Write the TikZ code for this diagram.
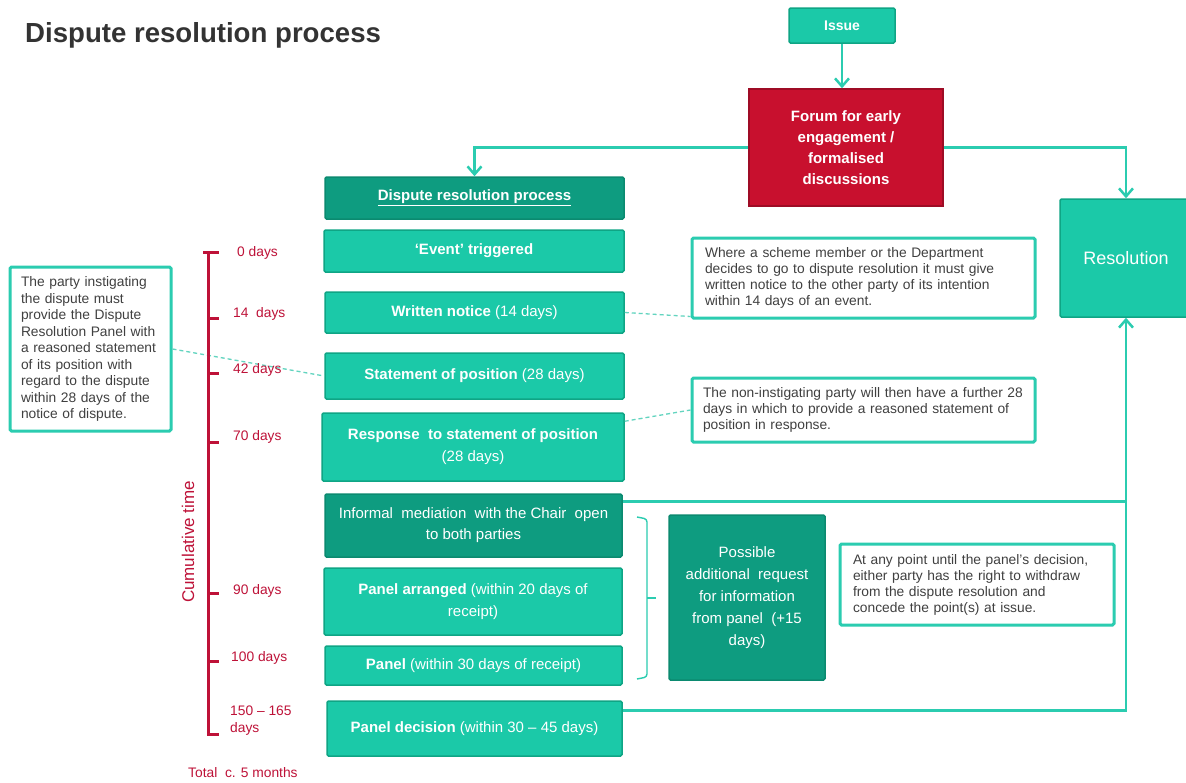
\documentclass[tikz,border=0pt]{standalone}
\usepackage{fontspec}
\setmainfont{Liberation Sans}
\usetikzlibrary{arrows.meta,calc}
\definecolor{tealb}{HTML}{1BC9A8}
\definecolor{tealbd}{HTML}{0FA585}
\definecolor{teald}{HTML}{0E9C80}
\definecolor{tealdd}{HTML}{0B8A70}
\definecolor{connc}{HTML}{2BCCB0}
\definecolor{dashc}{HTML}{62D4BF}
\definecolor{crim}{HTML}{C8102E}
\definecolor{crimd}{HTML}{9E0C25}
\definecolor{txtc}{HTML}{404040}
\definecolor{redt}{HTML}{BE1238}
\definecolor{titlec}{HTML}{333333}
\begin{document}
\begin{tikzpicture}[x=1pt,y=-1pt,
  bright/.style={draw=tealbd, line width=1.5pt, fill=tealb, rounded corners=1.5pt, text=white, align=center, inner sep=0pt, font=\fontsize{15}{22}\selectfont},
  darkb/.style={bright, fill=teald, draw=tealdd},
  callout/.style={draw=connc, line width=3pt, fill=white, rounded corners=1.5pt, text=txtc, align=left, inner xsep=12pt, inner ysep=0pt, font=\fontsize{13.8}{16}\selectfont},
  connline/.style={draw=connc, line width=2.5pt},
  arr/.style={-{Straight Barb[length=8pt,width=14pt]}},
  dashl/.style={draw=dashc, line width=1.3pt, dash pattern=on 4pt off 3pt},
  tline/.style={draw=redt, line width=3pt},
  daylab/.style={text=redt, font=\fontsize{13.8}{17}\selectfont, anchor=west, inner sep=0pt, align=left},
  brk/.style={draw=connc, line width=1.4pt, rounded corners=3pt}
]
\useasboundingbox[fill=white] (0,0) rectangle (1186,782);

\node[anchor=west, text=titlec, font=\bfseries\fontsize{27.6}{30}\selectfont, inner sep=0pt] (title) at (25,35) {Dispute resolution process};

% top nodes
\node[bright, minimum width=106pt, minimum height=35pt, font=\bfseries\fontsize{14}{17}\selectfont] (issue) at (842,25.5) {Issue};
\node[draw=crimd, line width=1.5pt, fill=crim, text=white, align=center, inner sep=0pt, minimum width=194pt, minimum height=117pt, font=\bfseries\fontsize{15}{21}\selectfont] (forum) at (846,147.5) {Forum for early\\engagement /\\formalised\\discussions};
\node[bright, minimum width=132pt, minimum height=118pt, font=\fontsize{18}{22}\selectfont] (res) at (1126,258) {Resolution};

% process column
\node[darkb, minimum width=299pt, minimum height=42pt] (hdr) at (474.5,198) {\underline{\textbf{Dispute resolution process}}};
\node[bright, minimum width=300pt, minimum height=42pt] (ev) at (474,251) {\textbf{‘Event’ triggered}};
\node[bright, minimum width=299pt, minimum height=41pt] (wn) at (474.5,312.5) {\textbf{Written notice} (14 days)};
\node[bright, minimum width=299pt, minimum height=46pt] (st) at (474.5,376) {\textbf{Statement of position} (28 days)};
\node[bright, minimum width=302pt, minimum height=68pt] (rs) at (473,447) {\textbf{Response\ \ to statement of position}\\(28 days)};
\node[darkb, minimum width=297pt, minimum height=63pt, font=\fontsize{15}{21}\selectfont] (inf) at (473.5,525.5) {Informal\ \ mediation\ \ with the Chair\ \ open\\to both parties};
\node[bright, minimum width=298pt, minimum height=67pt] (pa) at (473,601.5) {\textbf{Panel arranged} (within 20 days of\\receipt)};
\node[bright, minimum width=297pt, minimum height=39pt] (pn) at (473.5,665.5) {\textbf{Panel} (within 30 days of receipt)};
\node[bright, minimum width=295pt, minimum height=55pt] (pd) at (474.5,728.5) {\textbf{Panel decision} (within 30 – 45 days)};

\node[darkb, minimum width=156pt, minimum height=165pt] (poss) at (747,597.5) {Possible\\additional\ \ request\\for information\\from panel\ \ (+15\\days)};

% callouts
\node[callout, inner xsep=13pt, text width=317pt, minimum height=80pt] (c1) at (863.5,278) {Where a scheme member or the Department\\decides to go to dispute resolution it must give\\written notice to the other party of its intention\\within 14 days of an event.};
\node[callout, inner xsep=11pt, text width=321pt, minimum height=64pt] (c2) at (863.5,410) {The non-instigating party will then have a further 28\\days in which to provide a reasoned statement of\\position in response.};
\node[callout, inner xsep=11pt, text width=139pt, minimum height=164pt, font=\fontsize{13.8}{16.5}\selectfont] (c3) at (90.5,349) {The party instigating\\the dispute must\\provide the Dispute\\Resolution Panel with\\a reasoned statement\\of its position with\\regard to the dispute\\within 28 days of the\\notice of dispute.};
\node[callout, inner xsep=13pt, text width=248pt, minimum height=81pt] (c4) at (977,584.5) {At any point until the panel’s decision,\\either party has the right to withdraw\\from the dispute resolution and\\concede the point(s) at issue.};

% main connectors
\draw[connline, arr] (issue.south) -- (issue.south |- forum.north);
\draw[connline, arr] (forum.west) -| (hdr.north);
\draw[connline, arr] (forum.east) -| (res.north);
\coordinate (infout) at ($(inf.north east)+(0,8)$);
\coordinate (pdout) at ($(pd.north east)+(0,10)$);
\draw[connline] (infout) -- (infout -| res.south);
\draw[connline, arr] (pdout) -| (res.south);

% dashed connectors
\draw[dashl] (wn.east) -- ($(c1.south west)+(0,-3)$);
\draw[dashl] ($(rs.north east)+(0,9)$) -- (c2.west);
\draw[dashl] (c3.east) -- (st.west);

% bracket
\coordinate (b1) at (637,517);
\coordinate (b2) at (637,679);
\draw[brk] (b1) -- (647,519) -- (647,677) -- (b2);
\draw[brk] (647,598) -- (656,598);

% timeline
\draw[tline] (203,252) -- (219,252);
\draw[tline, line join=miter] (208,252) -- (208,734) -- (219,734);
\foreach \yy in {318,373,442,593,661} { \draw[tline] (208,\yy) -- (219,\yy); }
\node[daylab] (d0) at (237,253) {0 days};
\node[daylab] (d14) at (233,314) {14\ \ days};
\node[daylab] (d42) at (233,370) {42 days};
\node[daylab] (d70) at (233,437) {70 days};
\node[daylab] (d90) at (233,591) {90 days};
\node[daylab] (d100) at (231,658) {100 days};
\node[daylab] (d150) at (230,721) {150 – 165\\days};
\node[daylab] (tot) at (188,773) {Total\ \ c. 5 months};
\node[text=redt, font=\fontsize{17}{20}\selectfont, rotate=90, inner sep=0pt] (cum) at (188,542) {Cumulative time};
\end{tikzpicture}
\end{document}
